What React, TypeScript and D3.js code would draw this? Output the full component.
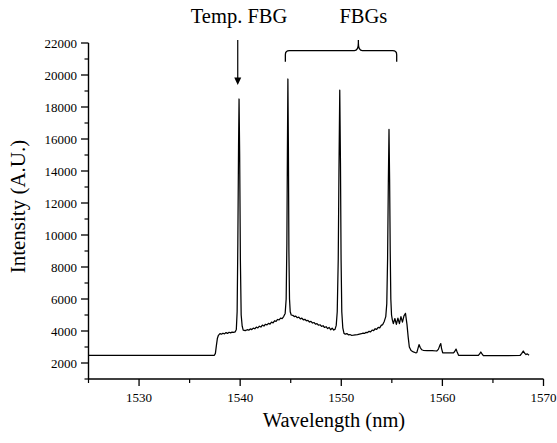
import React from "react";
import * as d3 from "d3";

const wavelength: number[] = [
  1525, 1530, 1535, 1537.45, 1537.55, 1537.65, 1537.75, 1537.85, 1538.0, 1538.15, 1538.3, 1538.45, 1538.6, 1538.75, 1538.9, 1539.05, 1539.2, 1539.35, 1539.5, 1539.62, 1539.7, 1539.77, 1539.84, 1539.89, 1539.95, 1540.02, 1540.1, 1540.2, 1540.3,
  1540.5, 1540.7, 1540.85, 1541.0, 1541.15, 1541.3, 1541.45, 1541.6, 1541.75, 1541.9, 1542.05, 1542.2, 1542.35, 1542.5, 1542.65, 1542.8, 1542.95, 1543.1, 1543.25, 1543.4, 1543.55, 1543.7, 1543.85, 1544.0, 1544.15, 1544.3, 1544.45, 1544.55, 1544.62, 1544.67, 1544.72, 1544.77, 1544.82, 1544.88, 1544.95, 1545.05, 1545.2,
  1545.35, 1545.5, 1545.65, 1545.8, 1545.95, 1546.1, 1546.25, 1546.4, 1546.55, 1546.7, 1546.85, 1547.0, 1547.15, 1547.3, 1547.45, 1547.6, 1547.75, 1547.9, 1548.05, 1548.2, 1548.35, 1548.5, 1548.65, 1548.8, 1548.95, 1549.1, 1549.25, 1549.38, 1549.5, 1549.6, 1549.7, 1549.77, 1549.85, 1549.92, 1549.98, 1550.05, 1550.15, 1550.27,
  1550.4, 1550.55, 1550.7, 1550.85, 1551.0, 1551.2, 1551.4, 1551.6, 1551.8, 1552.0, 1552.15, 1552.3, 1552.45, 1552.6, 1552.75, 1552.9, 1553.05, 1553.2, 1553.35, 1553.5, 1553.65, 1553.8, 1553.95, 1554.1, 1554.25, 1554.4, 1554.5, 1554.58, 1554.65, 1554.72, 1554.78, 1554.84, 1554.9, 1554.97, 1555.05,
  1555.15, 1555.3, 1555.45, 1555.6, 1555.75, 1555.9, 1556.05, 1556.2, 1556.35, 1556.5, 1556.62, 1556.73, 1556.9, 1557.13, 1557.35, 1557.47, 1557.58, 1557.69, 1557.8, 1557.95, 1558.1, 1558.5, 1559.0, 1559.44, 1559.6, 1559.75, 1559.84, 1559.92, 1560.03, 1560.5, 1561.08, 1561.2, 1561.35, 1561.45, 1561.6, 1562.5, 1563.56, 1563.7, 1563.8, 1563.92, 1564.05, 1565, 1566, 1567.68, 1567.85, 1568.0, 1568.15, 1568.27, 1568.4, 1568.57,
];

const intensity: number[] = [
  2480, 2480, 2480, 2480, 2600, 3100, 3550, 3730, 3840, 3800, 3860, 3820, 3900, 3850, 3920, 3880, 3930, 3910, 3940, 4100, 5200, 9500, 15500, 18500, 15000, 8500, 5000, 4300, 4060,
  4020, 4080, 4050, 4130, 4090, 4180, 4140, 4240, 4190, 4300, 4250, 4370, 4310, 4420, 4380, 4480, 4430, 4560, 4510, 4640, 4600, 4720, 4690, 4800, 4780, 4900, 5100, 6000, 9500, 15000, 19750, 15500, 9000, 6000, 5200, 5000, 4980,
  4900, 4930, 4830, 4870, 4760, 4800, 4700, 4730, 4640, 4660, 4560, 4600, 4500, 4530, 4430, 4460, 4360, 4390, 4290, 4330, 4220, 4270, 4150, 4220, 4080, 4180, 4060, 4100, 4350, 5200, 8500, 14000, 19050, 14500, 8500, 5200, 4200, 3850,
  3800, 3840, 3760, 3780, 3730, 3740, 3760, 3770, 3800, 3830, 3870, 3850, 3920, 3900, 3980, 3950, 4060, 4020, 4140, 4100, 4230, 4200, 4350, 4400, 4600, 4900, 5700, 8500, 13000, 16600, 13500, 9000, 6000, 5000, 4700,
  4460, 4780, 4420, 4800, 4460, 4900, 4550, 4950, 5100, 4400, 3600, 3000, 2780, 2690, 2640, 2650, 2900, 3150, 2980, 2830, 2795, 2780, 2770, 2750, 2850, 3100, 3210, 2900, 2640, 2630, 2630, 2700, 2870, 2700, 2480, 2470, 2470, 2580, 2690, 2570, 2460, 2460, 2460, 2470, 2600, 2750, 2600, 2530, 2570, 2480,
];

const xMajorTicks: number[] = [1530, 1540, 1550, 1560, 1570];
const xMinorTicks: number[] = [1525, 1535, 1545, 1555, 1565];
const yMajorTicks: number[] = [2000, 4000, 6000, 8000, 10000, 12000, 14000, 16000, 18000, 20000, 22000];
const yMinorTicks: number[] = [1000, 3000, 5000, 7000, 9000, 11000, 13000, 15000, 17000, 19000, 21000];

const xDomain: [number, number] = [1525, 1570];
const yDomain: [number, number] = [1000, 22000];

const arrowAt = 1539.76;
const tempLabelAt = 1539.89;
const braceFrom = 1544.47;
const braceTo = 1555.48;
const braceMid = 1551.69;
const fbgLabelAt = 1552.18;

const SERIF = { fontFamily: "Liberation Serif" };

export default function App() {
  const W = 557, H = 443;
  const x = d3.scaleLinear().domain(xDomain).range([88.5, 543.5]);
  const y = d3.scaleLinear().domain(yDomain).range([379, 43]);
  const pts = wavelength.map((w, i) => [w, intensity[i]] as [number, number]);
  const line = d3.line<[number, number]>().x((d) => x(d[0])).y((d) => y(d[1]));

  const ax = x(arrowAt);
  const bL = x(braceFrom), bR = x(braceTo), bM = x(braceMid);
  const bY = 50.7, bBot = 61.7, bTop = 40;
  const r = 4;
  const bracePath =
    `M${bL},${bBot} L${bL},${bY + r} Q${bL},${bY} ${bL + r},${bY} L${bM - r},${bY} Q${bM},${bY} ${bM},${bTop + 3} L${bM},${bTop}` +
    ` M${bM},${bTop + 3} Q${bM},${bY} ${bM + r},${bY} L${bR - r},${bY} Q${bR},${bY} ${bR},${bY + r} L${bR},${bBot}`;

  return (
    <div style={{ position: "absolute", left: 0, top: 0 }}>
      <svg width={W} height={H}>
        <path d={line(pts) ?? ""} fill="none" stroke="#000" strokeWidth={1.25} strokeLinejoin="round" />
        <line x1={88.5} x2={88.5} y1={y(22000)} y2={379} stroke="#000" strokeWidth={1.4} />
        <line x1={88.5} x2={543.5} y1={379} y2={379} stroke="#000" strokeWidth={1.4} />
        {yMinorTicks.map((t) => (
          <line key={"yn" + t} x1={84.5} x2={88.5} y1={y(t)} y2={y(t)} stroke="#000" strokeWidth={1.2} />
        ))}
        {yMajorTicks.map((t) => (
          <line key={"ym" + t} x1={81} x2={88.5} y1={y(t)} y2={y(t)} stroke="#000" strokeWidth={1.3} />
        ))}
        {yMajorTicks.map((t) => (
          <text key={"yl" + t} x={77} y={y(t) + 4.5} textAnchor="end" fontSize={13} style={SERIF}>{t}</text>
        ))}
        {xMinorTicks.map((t) => (
          <line key={"xn" + t} x1={x(t)} x2={x(t)} y1={379} y2={383} stroke="#000" strokeWidth={1.2} />
        ))}
        {xMajorTicks.map((t) => (
          <line key={"xm" + t} x1={x(t)} x2={x(t)} y1={379} y2={386} stroke="#000" strokeWidth={1.3} />
        ))}
        {xMajorTicks.map((t) => (
          <text key={"xl" + t} x={x(t)} y={401.5} textAnchor="middle" fontSize={13} style={SERIF}>{t}</text>
        ))}
        <text x={334} y={426.5} textAnchor="middle" fontSize={20.5} style={SERIF}>Wavelength (nm)</text>
        <text x={0} y={0} transform="translate(25,206.5) rotate(-90)" textAnchor="middle" fontSize={21} style={SERIF}>Intensity (A.U.)</text>
        <text x={x(tempLabelAt)} y={22.5} textAnchor="middle" fontSize={20.5} style={SERIF}>Temp. FBG</text>
        <line x1={ax} x2={ax} y1={40} y2={80} stroke="#000" strokeWidth={1.2} />
        <path d={`M${ax - 3.5},${77.5} L${ax + 3.5},${77.5} L${ax},${85} Z`} fill="#000" />
        <text x={x(fbgLabelAt)} y={22.5} textAnchor="middle" fontSize={20.5} style={SERIF}>FBGs</text>
        <path d={bracePath} fill="none" stroke="#000" strokeWidth={1.3} />
      </svg>
    </div>
  );
}
